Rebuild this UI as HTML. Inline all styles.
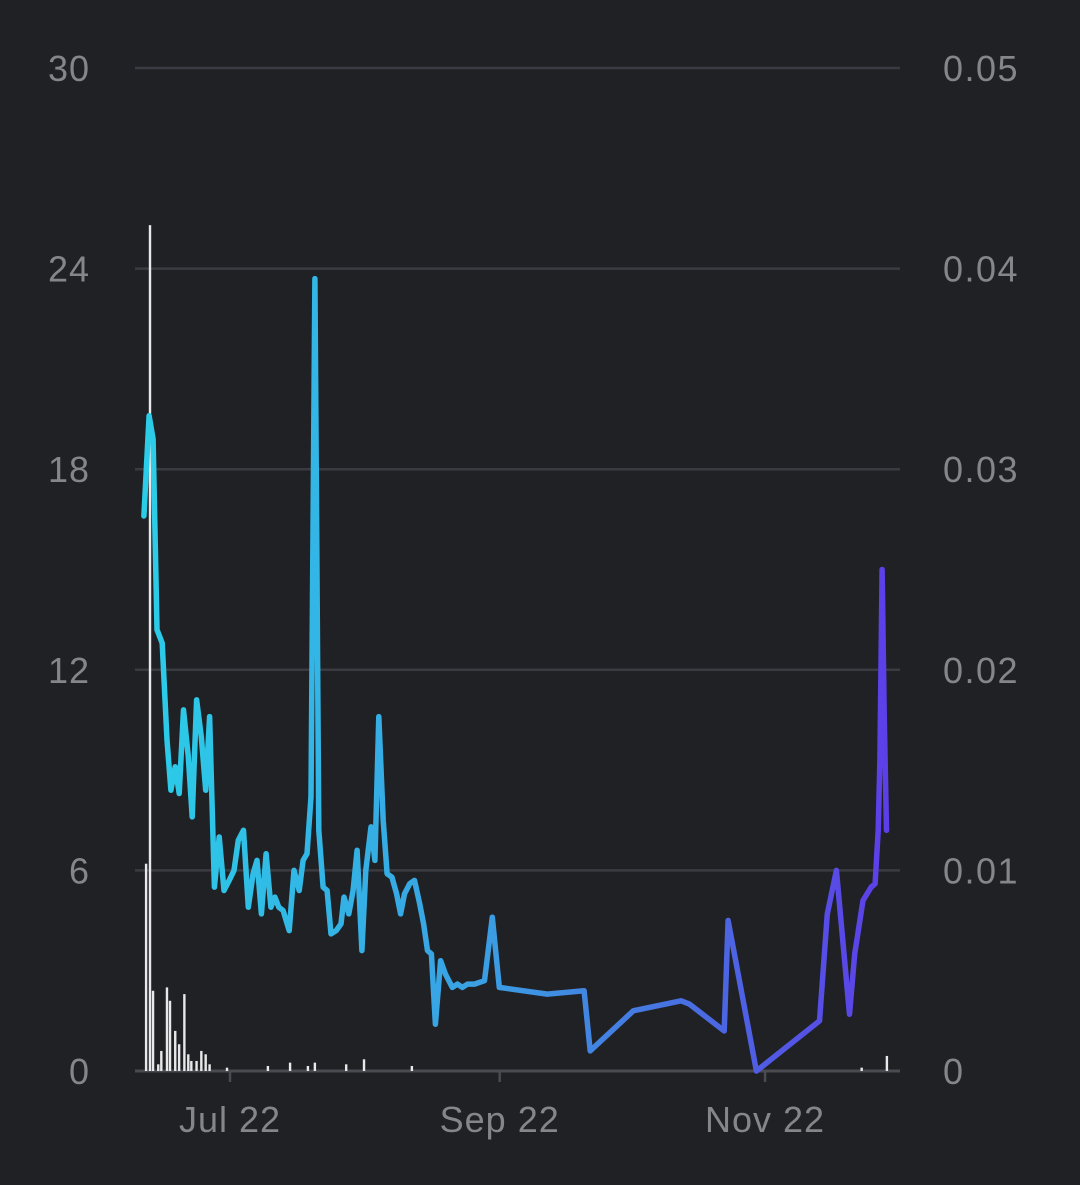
<!DOCTYPE html>
<html><head><meta charset="utf-8"><style>
html,body{margin:0;padding:0;background:#202125;}
svg{display:block;font-family:"Liberation Sans",sans-serif;}
</style></head><body>
<svg id="chart" width="1080" height="1185" viewBox="0 0 1080 1185">
<defs><linearGradient id="lg" gradientUnits="userSpaceOnUse" x1="140" y1="0" x2="890" y2="0">
<stop offset="0" stop-color="#2bcde8"/><stop offset="0.45" stop-color="#3aa0e3"/><stop offset="0.75" stop-color="#4a6be2"/><stop offset="1" stop-color="#5d3ee8"/></linearGradient></defs>
<rect width="1080" height="1185" fill="#202125"/>
<g id="grid"></g><g id="bars"></g><g id="line"></g><g id="labels"></g>
</svg>
<script>
const leftTicks=[0,6,12,18,24,30];
const rightTickLabels=["0","0.01","0.02","0.03","0.04","0.05"];
const xTickDays=[30,92,153];
const xTickLabels=["Jul 22","Sep 22","Nov 22"];
const lineDays=[10.9,12.1,13,13.9,15.1,16.2,17.1,18.1,19,20,21.1,22,23,24.1,25.1,26,27.1,28.2,29.3,30.5,31.6,32.6,33.8,34.9,36,36.9,37.9,39,40.1,41,41.9,42.9,44.3,45.4,46.6,47.5,48.4,49.3,50.2,51.1,52.1,53,53.9,55.1,56.2,56.9,58,59,59.9,61,61.9,63.1,64,64.9,65.9,66.8,67.9,69,69.9,70.8,72,73.1,74.3,75.2,76.1,77,77.9,79.1,80.2,81.8,83,84.1,85.3,86.9,89.2,91,92.6,103.6,112.1,113.5,123.4,134.4,136.3,144.3,145.2,151.7,166.2,168,170.1,173.1,174.3,176.2,178.1,179,179.7,180.1,180.6,181.1,181.6];
const lineValues=[16.6,19.6,18.9,13.2,12.8,9.9,8.4,9.1,8.3,10.8,9.4,7.6,11.1,10,8.4,10.6,5.5,7,5.4,5.7,6,6.9,7.2,4.9,5.9,6.3,4.7,6.5,4.9,5.2,4.9,4.8,4.2,6,5.4,6.3,6.5,8.2,23.7,7.2,5.5,5.4,4.1,4.2,4.4,5.2,4.7,5.4,6.6,3.6,6,7.3,6.3,10.6,7.5,5.9,5.8,5.3,4.7,5.3,5.6,5.7,5,4.4,3.6,3.5,1.4,3.3,2.9,2.5,2.6,2.5,2.6,2.6,2.7,4.6,2.5,2.3,2.4,0.6,1.8,2.1,2,1.2,4.5,0,1.5,4.7,6,1.7,3.5,5.1,5.5,5.6,7.2,9.3,15,10.5,7.2];
const barDays=[11.4,12.3,13,14.2,14.9,16.2,16.9,18.1,19,20.2,21.1,21.8,23,24.1,25.1,26,30,39.4,44.5,48.6,50.2,57.4,61.5,72.5,175.9,181.7];
const barValues=[6.2,25.3,2.4,0.2,0.6,2.5,2.1,1.2,0.8,2.3,0.5,0.3,0.3,0.6,0.5,0.2,0.1,0.15,0.25,0.15,0.25,0.2,0.35,0.15,0.1,0.45];
const NS="http://www.w3.org/2000/svg";
const X0=230,PXD=4.35,Y0=1071,PXU=(1071-68)/30,DOFF=-3;
function xs(d){return X0+(d-30)*PXD;}
function xd(d){return xs(d)+DOFF;}
function ys(v){return Y0-v*PXU;}
function mk(tag,attrs,parent){const e=document.createElementNS(NS,tag);for(const k in attrs)e.setAttribute(k,attrs[k]);parent.appendChild(e);return e;}
const grid=document.getElementById('grid'),bars=document.getElementById('bars'),line=document.getElementById('line'),labels=document.getElementById('labels');
leftTicks.forEach((t,i)=>{
 const g=mk('line',{x1:135,x2:900,y1:ys(t),y2:ys(t),stroke:i===0?'#4a4b50':'#3a3b40','stroke-width':i===0?3:2.5},grid);
 
 
 const l=mk('text',{x:90,y:ys(t)+13,'text-anchor':'end','font-size':36,'letter-spacing':1,fill:'#85868a'},labels);
 l.textContent=String(t);
 
 
 const r=mk('text',{x:943,y:ys(t)+13,'text-anchor':'start','font-size':36,'letter-spacing':1.5,fill:'#85868a'},labels);
 r.textContent=rightTickLabels[i];
 
 
});
xTickDays.forEach((d,i)=>{
 const t=mk('line',{x1:xs(d),x2:xs(d),y1:1071,y2:1082,stroke:'#4a4b50','stroke-width':2.5},grid);
 
 
 const l=mk('text',{x:xs(d),y:1132,'text-anchor':'middle','font-size':36,'letter-spacing':1,fill:'#85868a'},labels);
 l.textContent=xTickLabels[i];
 
 
});
barDays.forEach((d,i)=>{
 const h=barValues[i]*PXU;
 const b=mk('rect',{x:xd(d)-1.2,y:Y0-h,width:2.4,height:h,fill:'#e8e8ea'},bars);
 
 
});
const pts=lineDays.map((d,i)=>xd(d).toFixed(1)+','+ys(lineValues[i]).toFixed(1)).join(' ');
const p=mk('polyline',{points:pts,fill:'none',stroke:'url(#lg)','stroke-width':5.5,'stroke-linejoin':'round','stroke-linecap':'round'},line);


</script>
</body></html>
